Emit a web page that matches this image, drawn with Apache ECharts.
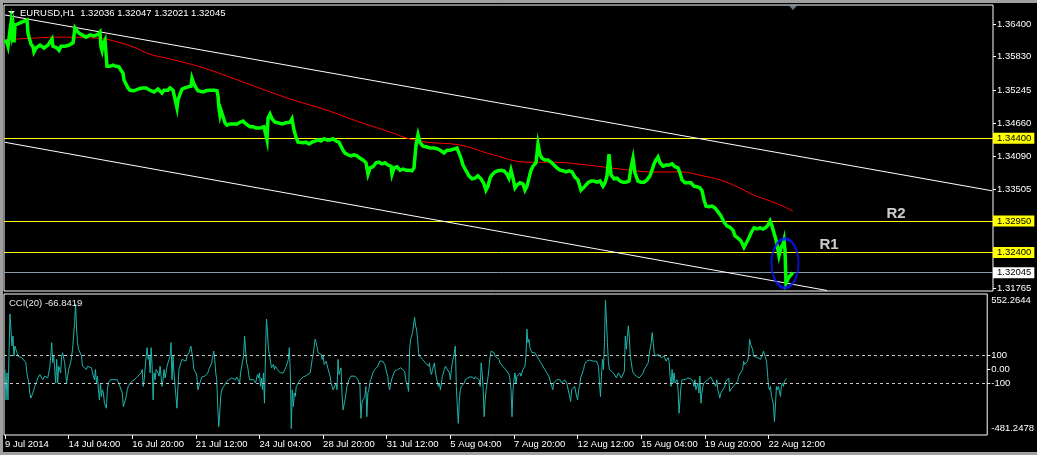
<!DOCTYPE html>
<html><head><meta charset="utf-8">
<script src="https://cdn.jsdelivr.net/npm/echarts@6/dist/echarts.min.js"></script>
<style>
html,body{margin:0;padding:0;background:#000;overflow:hidden;}
#c{width:1037px;height:455px;}
#frame{position:absolute;left:0;top:0;width:1037px;height:455px;box-sizing:border-box;border-left:3px solid #a0a0a0;border-top:3px solid #a0a0a0;border-bottom:3px solid #a0a0a0;pointer-events:none;}
</style></head><body>
<div id="c"></div><div id="frame"></div>
<script>
// ---------- DATA ----------
const symbolTitle = 'EURUSD,H1  1.32036 1.32047 1.32021 1.32045';
const cciTitle = 'CCI(20) -66.8419';
// bar index (1 bar = 1 hour), first bar = 9 Jul 2014
const timeTickIdx = [0,64,128,192,256,320,384,448,512,576,640,704,768];
const timeTickLabels = ['9 Jul 2014','14 Jul 04:00','16 Jul 20:00','21 Jul 12:00','24 Jul 04:00','28 Jul 20:00','31 Jul 12:00','5 Aug 04:00','7 Aug 20:00','12 Aug 12:00','15 Aug 04:00','19 Aug 20:00','22 Aug 12:00'];
const priceTicks = [1.36400,1.35830,1.35245,1.34660,1.34090,1.33505,1.31765];
const priceRange = [1.31724, 1.36733];
const cciRange = [-481.2478, 552.2644];
const cciLevels = [100, -100];
const cciTicks = [100, 0, -100];
const resistanceLevels = [1.34400, 1.32950, 1.32400];
const bidPrice = 1.32045;
const closePrice = [[0,1.3612],[2,1.3607],[3,1.3601],[5,1.3629],[6,1.3642],[7,1.3624],[8,1.3635],[9,1.3608],[10,1.3638],[12,1.3640],[15,1.3642],[17,1.3645],[19,1.3645],[21,1.3644],[22,1.3647],[23,1.3624],[24,1.3617],[26,1.3605],[28,1.3600],[29,1.3591],[31,1.3598],[33,1.3600],[35,1.3603],[37,1.3600],[39,1.3598],[41,1.3601],[43,1.3603],[45,1.3601],[47,1.3614],[48,1.3601],[50,1.3600],[52,1.3598],[54,1.3594],[56,1.3601],[58,1.3603],[60,1.3601],[62,1.3600],[64,1.3603],[66,1.3605],[68,1.3607],[69,1.3610],[70,1.3633],[72,1.3628],[74,1.3624],[77,1.3621],[79,1.3619],[81,1.3617],[83,1.3617],[85,1.3621],[87,1.3621],[89,1.3619],[91,1.3619],[93,1.3622],[95,1.3626],[96,1.3600],[97,1.3594],[98,1.3605],[99,1.3608],[100,1.3612],[101,1.3615],[102,1.3566],[103,1.3563],[105,1.3566],[108,1.3568],[111,1.3566],[114,1.3565],[116,1.3559],[118,1.3554],[119,1.3542],[121,1.3535],[123,1.3528],[125,1.3524],[127,1.3523],[129,1.3523],[131,1.3524],[133,1.3526],[135,1.3526],[137,1.3528],[139,1.3531],[141,1.3528],[143,1.3526],[145,1.3524],[147,1.3526],[149,1.3521],[151,1.3523],[153,1.3526],[155,1.3523],[157,1.3519],[159,1.3524],[161,1.3526],[163,1.3524],[165,1.3528],[168,1.3524],[170,1.3521],[172,1.3493],[173,1.3507],[175,1.3517],[177,1.3526],[180,1.3528],[183,1.3530],[186,1.3531],[187,1.3545],[189,1.3535],[191,1.3528],[193,1.3523],[195,1.3521],[198,1.3521],[201,1.3523],[205,1.3524],[209,1.3524],[212,1.3523],[213,1.3514],[214,1.3493],[215,1.3481],[216,1.3489],[218,1.3486],[220,1.3467],[222,1.3463],[225,1.3465],[228,1.3465],[232,1.3465],[235,1.3468],[238,1.3470],[241,1.3465],[245,1.3460],[248,1.3460],[251,1.3458],[255,1.3458],[259,1.3460],[261,1.3458],[262,1.3437],[263,1.3475],[265,1.3482],[267,1.3474],[270,1.3468],[273,1.3467],[277,1.3465],[281,1.3467],[285,1.3468],[287,1.3474],[289,1.3454],[291,1.3442],[293,1.3433],[295,1.3432],[298,1.3432],[301,1.3433],[304,1.3430],[307,1.3433],[310,1.3435],[313,1.3437],[316,1.3435],[319,1.3439],[322,1.3437],[325,1.3437],[328,1.3439],[331,1.3435],[334,1.3433],[336,1.3426],[338,1.3419],[340,1.3414],[343,1.3411],[346,1.3409],[349,1.3411],[352,1.3409],[355,1.3405],[358,1.3402],[361,1.3397],[363,1.3377],[365,1.3388],[368,1.3390],[371,1.3397],[374,1.3398],[377,1.3395],[380,1.3397],[383,1.3393],[386,1.3391],[387,1.3377],[389,1.3388],[392,1.3390],[395,1.3384],[398,1.3386],[401,1.3384],[404,1.3384],[407,1.3383],[409,1.3388],[411,1.3428],[412,1.3437],[413,1.3446],[415,1.3432],[418,1.3426],[421,1.3425],[425,1.3423],[429,1.3423],[433,1.3421],[436,1.3418],[439,1.3414],[442,1.3419],[445,1.3419],[449,1.3421],[452,1.3423],[454,1.3426],[456,1.3405],[458,1.3393],[461,1.3383],[464,1.3374],[467,1.3369],[470,1.3370],[473,1.3374],[476,1.3369],[479,1.3360],[481,1.3349],[483,1.3356],[485,1.3370],[487,1.3376],[490,1.3381],[493,1.3383],[496,1.3384],[499,1.3383],[502,1.3377],[504,1.3370],[506,1.3384],[508,1.3370],[510,1.3353],[512,1.3358],[515,1.3362],[518,1.3360],[520,1.3349],[522,1.3356],[524,1.3370],[526,1.3384],[528,1.3391],[531,1.3397],[533,1.3430],[535,1.3411],[537,1.3405],[540,1.3402],[543,1.3402],[546,1.3398],[549,1.3393],[552,1.3388],[555,1.3384],[558,1.3383],[561,1.3381],[564,1.3383],[567,1.3381],[570,1.3372],[573,1.3367],[576,1.3349],[578,1.3346],[580,1.3356],[583,1.3362],[586,1.3365],[589,1.3365],[592,1.3363],[595,1.3365],[598,1.3356],[600,1.3362],[602,1.3374],[604,1.3412],[606,1.3376],[609,1.3369],[612,1.3370],[615,1.3365],[618,1.3363],[621,1.3363],[624,1.3365],[626,1.3388],[628,1.3405],[630,1.3379],[633,1.3365],[636,1.3363],[639,1.3363],[642,1.3367],[645,1.3374],[647,1.3384],[649,1.3395],[651,1.3402],[653,1.3407],[655,1.3397],[658,1.3391],[661,1.3393],[664,1.3393],[667,1.3395],[670,1.3390],[673,1.3388],[675,1.3379],[677,1.3367],[680,1.3362],[683,1.3362],[686,1.3362],[689,1.3356],[692,1.3355],[695,1.3353],[697,1.3348],[699,1.3332],[701,1.3321],[704,1.3320],[707,1.3321],[710,1.3318],[713,1.3311],[716,1.3304],[719,1.3293],[722,1.3286],[725,1.3284],[728,1.3279],[730,1.3269],[733,1.3265],[736,1.3260],[739,1.3249],[741,1.3251],[743,1.3262],[746,1.3274],[749,1.3283],[752,1.3281],[755,1.3283],[758,1.3281],[761,1.3284],[763,1.3288],[765,1.3295],[767,1.3286],[769,1.3274],[771,1.3262],[773,1.3244],[774,1.3234],[776,1.3248],[778,1.3255],[779,1.3262],[780,1.3244],[781,1.3186],[782,1.3190],[784,1.3197],[786,1.3200],[788,1.32045]];
const movingAverage = [[0,1.3612],[25,1.3615],[55,1.3617],[95,1.3615],[105,1.3612],[128,1.3600],[145,1.3587],[162,1.3580],[195,1.3565],[228,1.3545],[265,1.3521],[288,1.3507],[322,1.3489],[355,1.3468],[388,1.3449],[402,1.3440],[422,1.3433],[455,1.3428],[488,1.3411],[522,1.3398],[548,1.3398],[582,1.3393],[615,1.3386],[648,1.3381],[675,1.3381],[698,1.3374],[715,1.3367],[732,1.3355],[748,1.3341],[765,1.3330],[778,1.3321],[788,1.3312]];
const upperChannel = [[0,1.36558],[987,1.33479]];
const lowerChannel = [[0,1.34328],[822,1.31733]];
const cciValues = [[0,-1],[1,-224],[2,-26],[3,-224],[4,97],[5,406],[6,295],[7,171],[8,245],[9,97],[10,171],[12,122],[13,97],[15,97],[17,85],[19,73],[21,48],[22,-26],[24,-100],[25,-174],[26,-211],[28,-174],[29,-150],[30,-125],[32,-88],[33,-63],[35,-38],[37,-50],[38,-76],[40,-50],[42,-38],[43,-63],[45,11],[46,97],[47,196],[48,48],[49,97],[50,-1],[51,-100],[52,73],[53,-100],[54,23],[56,-26],[57,97],[58,122],[60,48],[61,-26],[62,-100],[63,-50],[64,-1],[66,48],[67,97],[68,147],[70,344],[71,480],[72,295],[73,196],[74,147],[75,134],[77,97],[78,23],[80,11],[82,-1],[83,23],[85,36],[87,11],[88,-26],[90,-76],[91,-1],[92,-100],[93,-50],[94,-150],[95,-224],[96,-100],[97,-199],[98,-150],[99,-174],[100,-248],[102,-285],[103,-150],[104,-100],[106,-76],[107,-63],[108,-76],[110,-76],[112,-63],[113,-76],[115,-113],[117,-125],[118,-174],[119,-273],[120,-261],[122,-199],[123,-150],[124,-125],[126,-100],[127,-95],[128,-88],[130,-76],[132,-71],[133,-56],[135,-46],[137,-26],[138,-1],[139,-125],[140,-76],[142,97],[143,159],[144,73],[145,97],[146,-26],[147,159],[148,23],[149,-224],[150,-26],[151,-76],[152,-1],[154,-26],[155,-50],[156,23],[158,-125],[159,-76],[160,-1],[161,-63],[162,-26],[163,23],[165,73],[166,97],[167,196],[168,-76],[169,97],[170,-26],[172,-199],[173,-285],[174,-125],[175,-1],[177,48],[178,73],[180,85],[182,60],[183,97],[185,122],[187,171],[188,122],[189,73],[190,-1],[192,-26],[193,-50],[194,-150],[196,-100],[197,-100],[198,-56],[200,-63],[201,-50],[202,-38],[204,-26],[205,-1],[206,11],[208,48],[209,97],[210,134],[211,73],[212,-26],[213,-76],[214,-273],[215,-421],[216,-322],[217,-199],[218,-150],[220,-125],[222,-100],[223,-88],[225,-76],[227,-71],[228,-63],[230,-63],[232,-76],[233,-56],[235,-63],[236,-100],[237,-26],[238,-38],[239,60],[240,97],[241,245],[242,147],[243,48],[244,23],[245,-26],[246,-76],[247,-88],[248,-63],[250,-76],[251,-63],[252,-100],[254,-38],[255,-63],[256,-26],[257,-125],[258,-63],[259,-150],[260,-26],[261,-248],[262,97],[263,369],[264,282],[265,147],[266,110],[267,97],[268,11],[270,36],[271,-1],[272,23],[274,-1],[275,-14],[277,-26],[278,-38],[280,-26],[282,-14],[283,23],[285,73],[286,159],[287,-26],[288,-434],[289,-150],[290,-273],[291,-174],[292,-199],[293,-125],[295,-100],[297,-76],[298,-63],[300,-56],[302,-50],[303,-46],[305,-38],[307,-26],[308,-38],[309,73],[310,110],[311,97],[312,221],[313,196],[314,159],[315,122],[316,122],[318,110],[319,73],[320,97],[321,36],[322,23],[323,60],[324,73],[326,-26],[327,-50],[328,-100],[330,-150],[332,-162],[333,-100],[334,-150],[335,73],[336,-38],[338,11],[339,-174],[340,-298],[342,-224],[343,-174],[344,-125],[346,-76],[347,-63],[348,-50],[350,-38],[352,-50],[353,-38],[355,-76],[357,-113],[358,-359],[359,-248],[360,-224],[362,-199],[363,-125],[364,-347],[365,-174],[366,-150],[367,-100],[368,-76],[370,-26],[372,-1],[373,11],[375,23],[377,60],[378,73],[379,48],[380,60],[382,36],[383,23],[384,-26],[385,-50],[386,-125],[387,-150],[388,-100],[390,-50],[392,-14],[393,-1],[395,-1],[397,-14],[398,11],[400,-1],[402,-14],[403,-76],[405,-125],[406,-162],[407,147],[408,221],[410,270],[412,381],[413,319],[414,295],[415,221],[416,122],[417,97],[418,85],[420,73],[422,60],[423,48],[425,36],[426,23],[427,48],[428,-14],[429,-38],[430,-1],[432,48],[433,-26],[434,-63],[435,-76],[436,-125],[437,-100],[438,-150],[439,-100],[440,-50],[442,-1],[443,23],[445,23],[447,-26],[448,-76],[449,-1],[450,48],[452,122],[453,171],[454,-125],[455,-273],[456,-396],[457,-224],[458,-150],[459,-125],[460,-113],[462,-100],[463,-76],[465,-63],[467,-56],[468,-63],[470,-56],[472,-71],[473,-56],[475,-63],[477,-76],[478,-125],[479,48],[480,-26],[481,-150],[482,-347],[483,-224],[484,-150],[485,-100],[486,-50],[487,23],[488,97],[489,134],[490,122],[492,122],[493,97],[495,85],[497,73],[498,48],[500,36],[502,11],[503,-1],[505,-14],[507,-38],[508,-76],[509,-150],[510,-347],[511,-150],[512,-76],[513,-26],[514,-100],[515,-50],[516,-38],[517,-63],[518,-26],[519,-50],[520,-26],[521,-1],[523,23],[524,97],[525,295],[526,196],[527,221],[528,159],[529,147],[530,122],[532,110],[533,122],[535,97],[537,73],[538,60],[540,36],[542,23],[543,-1],[545,-26],[547,-50],[548,-76],[550,-125],[551,-150],[552,-100],[553,-88],[555,-76],[557,-88],[558,-76],[560,-100],[562,-88],[563,-76],[565,-100],[567,-100],[568,-199],[569,-236],[570,-150],[572,-162],[573,-125],[575,-199],[576,-224],[577,-150],[578,-125],[579,-63],[580,-50],[582,-1],[583,36],[585,60],[587,60],[588,68],[590,60],[592,60],[593,48],[595,60],[597,23],[598,-100],[599,-199],[600,-50],[601,73],[602,-1],[603,196],[604,505],[605,356],[606,196],[607,48],[608,-1],[609,-14],[610,11],[612,-26],[613,-14],[615,-63],[617,-26],[618,-38],[620,-63],[622,-50],[623,-14],[624,245],[625,147],[626,233],[627,319],[628,233],[629,97],[630,48],[631,-1],[632,-26],[634,-38],[635,-50],[637,-63],[638,-63],[640,-50],[642,-26],[643,-1],[645,23],[647,48],[648,110],[649,122],[650,196],[651,270],[652,196],[653,122],[654,97],[655,110],[657,110],[658,97],[660,85],[662,73],[663,97],[665,60],[667,85],[668,60],[669,-50],[670,-125],[671,-1],[672,-100],[673,-26],[674,-100],[676,-76],[677,-150],[678,-322],[679,-224],[680,-125],[681,-76],[682,-63],[684,-76],[685,-71],[687,-63],[688,-76],[690,-71],[692,-88],[693,-125],[694,-76],[695,-150],[697,-100],[698,-174],[699,-50],[700,-248],[701,-174],[702,-125],[703,-100],[705,-88],[707,-76],[708,-63],[710,-56],[712,-63],[713,-100],[715,-125],[716,-76],[717,-150],[718,-174],[719,-211],[720,-174],[721,-187],[722,-150],[724,-125],[725,-88],[726,-76],[728,-63],[729,-162],[730,-150],[731,-138],[732,-125],[734,-113],[735,-113],[737,-88],[738,-50],[740,-38],[742,-1],[743,60],[744,36],[745,48],[747,60],[748,97],[749,221],[750,184],[752,147],[753,97],[755,110],[757,85],[758,97],[760,73],[762,110],[763,134],[765,147],[766,60],[767,-26],[768,-125],[769,-150],[770,-125],[771,-199],[772,-224],[773,-261],[774,-384],[775,-261],[776,-125],[777,-150],[778,-125],[779,-138],[780,-199],[781,-125],[782,-100],[783,-125],[784,-88],[786,-66.8419]];
const blueEllipse = [[780, 1.32209]];
const notes = [[891, 1.33078, 'R2'], [824, 1.32530, 'R1']];
const shiftMarker = [[788, 1.36733]];

// ---------- CHART ----------
const FONT = '"Liberation Sans", Arial, sans-serif';
const FS = 9.5;
const txt = {color:'#fff', fontSize:FS, fontFamily:FONT};
const chart = echarts.init(document.getElementById('c'), null, {renderer:'canvas'});
const near = (a,b) => Math.abs(a-b) < 1e-6;

const boxLabel = (v, bg) => ({show:true, position:'end', distance:0, formatter: v.toFixed(5), backgroundColor:bg, color:'#000',
          fontSize:FS, fontFamily:FONT, padding:[1,3,0,4], lineHeight:10});
const levelLines = resistanceLevels.map(v => ({
  yAxis: v, lineStyle: {color:'#ffff00', width:1, type:'solid'}, label: boxLabel(v, '#ffff00')
}));
levelLines.push({yAxis: bidPrice, lineStyle: {color:'#8a98a8', width:1, type:'solid'}, label: boxLabel(bidPrice, '#ffffff')});

const option = {
  backgroundColor: '#000',
  animation: false,
  title: [
    {text: symbolTitle, left: 20, top: 8, padding: 0, textStyle: {color:'#fff', fontSize:FS, fontWeight:'normal', fontFamily:FONT}},
    {text: cciTitle, left: 9, top: 298, padding: 0, textStyle: {color:'#e8e8e8', fontSize:FS, fontWeight:'normal', fontFamily:FONT}}
  ],
  graphic: [
    {type:'polygon', shape:{points:[[8,11],[15,11],[11.5,14.5]]}, style:{fill:'#fff'}}
  ],
  grid: [
    {left:4, top:5, right:44, height:286, show:true, borderColor:'#fff', borderWidth:1, backgroundColor:'transparent'},
    {left:4, top:294, right:44, height:141, show:true, borderColor:'#fff', borderWidth:1, backgroundColor:'transparent'}
  ],
  xAxis: [
    {type:'value', gridIndex:0, min:-1, max:988, show:false, axisLine:{show:false, onZero:false}},
    {type:'value', gridIndex:1, min:-1, max:988, position:'bottom',
     axisLine:{show:false, onZero:false}, splitLine:{show:false},
     axisTick:{show:true, customValues: timeTickIdx, length:4, lineStyle:{color:'#fff'}},
     axisLabel:Object.assign({show:true, customValues: timeTickIdx, align:'left', margin:4,
       formatter: v => timeTickLabels[timeTickIdx.indexOf(v)] || ''}, txt)}
  ],
  yAxis: [
    {type:'value', gridIndex:0, position:'right', min:priceRange[0], max:priceRange[1],
     splitLine:{show:false}, axisLine:{show:false, onZero:false},
     axisTick:{show:true, customValues: priceTicks, length:3, lineStyle:{color:'#fff'}},
     axisLabel:Object.assign({show:true, customValues: priceTicks, margin:4, formatter: v => v.toFixed(5)}, txt)},
    {type:'value', gridIndex:1, position:'right', min:cciRange[0], max:cciRange[1],
     splitLine:{show:false}, axisLine:{show:false, onZero:false},
     axisTick:{show:true, customValues: cciTicks, length:3, lineStyle:{color:'#fff'}},
     axisLabel:Object.assign({show:true, customValues: [cciRange[1]].concat(cciTicks, [cciRange[0]]), margin:4,
       formatter: v => {
         if (near(v, cciRange[1])) return '{t|' + cciRange[1].toFixed(4) + '}';
         if (near(v, cciRange[0])) return '{b|' + cciRange[0].toFixed(4) + '}';
         if (near(v, 0)) return '0.00';
         return String(v);
       },
       rich: {
         t: Object.assign({padding:[13,0,0,0]}, txt),
         b: Object.assign({padding:[0,0,13,0]}, txt)
       }}, txt)}
  ],
  series: [
    {type:'line', name:'upper', xAxisIndex:0, yAxisIndex:0, data: upperChannel, symbol:'none',
     lineStyle:{color:'#ffffff', width:1}, silent:true, z:2},
    {type:'line', name:'lower', xAxisIndex:0, yAxisIndex:0, data: lowerChannel, symbol:'none',
     lineStyle:{color:'#ffffff', width:1}, silent:true, z:2},
    {type:'line', name:'MA', xAxisIndex:0, yAxisIndex:0, data: movingAverage, symbol:'none', smooth:0.4,
     lineStyle:{color:'#ff0000', width:1}, silent:true, z:3},
    {type:'line', name:'EURUSD', xAxisIndex:0, yAxisIndex:0, data: closePrice, symbol:'none',
     lineStyle:{color:'#00ff00', width:3.5, join:'miter'}, silent:true, z:4,
     markLine: {silent:true, precision:5, symbol:['none','none'], animation:false, data: levelLines, z:1}},
    {type:'scatter', xAxisIndex:0, yAxisIndex:0, data: blueEllipse, symbol:'circle', symbolSize:[27,49],
     itemStyle:{color:'rgba(0,0,0,0)', borderColor:'#0a14ff', borderWidth:2.5}, silent:true, z:5},
    {type:'scatter', xAxisIndex:0, yAxisIndex:0, data: notes, symbolSize:1,
     itemStyle:{color:'rgba(0,0,0,0)'}, silent:true, z:6,
     label:{show:true, position:'inside', formatter: p => p.value[2], color:'#ffffff', fontSize:15, fontWeight:'bold', fontFamily:FONT}},
    {type:'scatter', xAxisIndex:0, yAxisIndex:0, data: shiftMarker, symbol:'triangle', symbolRotate:180,
     symbolSize:[9,5], symbolOffset:[0,2.5], itemStyle:{color:'#8c9aa8'}, silent:true, z:6, clip:false},
    {type:'line', name:'CCI', xAxisIndex:1, yAxisIndex:1, data: cciValues, symbol:'none',
     lineStyle:{color:'#20b2aa', width:1}, silent:true, z:4,
     markLine: {silent:true, precision:2, symbol:['none','none'], label:{show:false},
       lineStyle:{color:'#c8c8c8', width:1, type:[3,3]},
       data: cciLevels.map(v => ({yAxis:v}))}}
  ]
};
chart.setOption(option);
</script>
</body></html>
